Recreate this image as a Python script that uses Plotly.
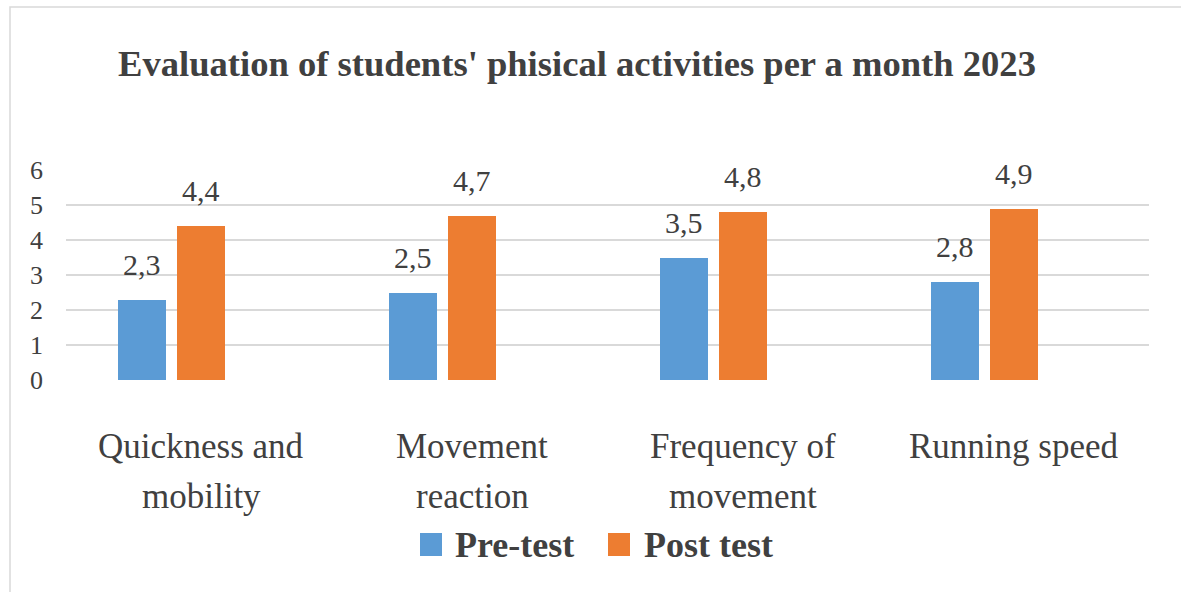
import plotly.graph_objects as go

# Chart data
categories = ["Quickness and<br>mobility", "Movement<br>reaction",
              "Frequency of<br>movement", "Running speed"]
pre_test = [2.3, 2.5, 3.5, 2.8]
post_test = [4.4, 4.7, 4.8, 4.9]
series_names = ["Pre-test", "Post test"]
y_ticks = [0, 1, 2, 3, 4, 5, 6]

BLUE = "#5B9BD5"
ORANGE = "#ED7D31"
TEXT = "#404040"
GRID = "#D9D9D9"
FONT = "Liberation Serif"

W, H = 1181, 592
M_L, M_R, M_T, M_B = 66, 32, 170, 212
PLOT_W = W - M_L - M_R
PLOT_H = H - M_T - M_B

# group layout: three slots per category, the third one left empty
BAR_W = 0.177
PRE_OFF = -0.218
POST_OFF = 0.0

idx = list(range(len(categories)))


def fmt(v):
    return f"{v:.1f}".replace(".", ",")


def px_x(p):
    return (p - M_L) / PLOT_W


def px_y(p):
    return (H - M_B - p) / PLOT_H


fig = go.Figure()
fig.add_trace(go.Bar(x=[i + PRE_OFF for i in idx], y=pre_test, width=BAR_W,
                     name=series_names[0], marker=dict(color=BLUE, line_width=0)))
fig.add_trace(go.Bar(x=[i + POST_OFF for i in idx], y=post_test, width=BAR_W,
                     name=series_names[1], marker=dict(color=ORANGE, line_width=0)))

annotations = []
for i in idx:
    for off, vals in ((PRE_OFF, pre_test), (POST_OFF, post_test)):
        annotations.append(dict(x=i + off, y=vals[i], xref="x", yref="y",
                                text=fmt(vals[i]), showarrow=False,
                                yanchor="bottom", yshift=17,
                                font=dict(family=FONT, size=30, color=TEXT)))

# category labels, one annotation per text line for wider line spacing
LINE_Y = [446, 496]
for i, cat in zip(idx, categories):
    for k, line in enumerate(cat.split("<br>")):
        annotations.append(dict(x=i, y=px_y(LINE_Y[k]), xref="x", yref="paper",
                                text=line, showarrow=False,
                                xanchor="center", yanchor="middle",
                                font=dict(family=FONT, size=35, color=TEXT)))

# legend drawn as swatches plus bold labels
shapes = [
    dict(type="rect", xref="paper", yref="paper",
         x0=px_x(10), x1=px_x(W + 10), y0=px_y(H + 10), y1=px_y(7),
         line=dict(color=GRID, width=1.5), fillcolor="rgba(0,0,0,0)", layer="below"),
]
legend_items = [(BLUE, 420, 453, series_names[0]), (ORANGE, 608, 642, series_names[1])]
for color, sx, tx, label in legend_items:
    shapes.append(dict(type="rect", xref="paper", yref="paper",
                       x0=px_x(sx), x1=px_x(sx + 22), y0=px_y(556), y1=px_y(533),
                       fillcolor=color, line_width=0))
    annotations.append(dict(x=px_x(tx), y=px_y(545), xref="paper", yref="paper",
                            text=f"<b>{label}</b>", showarrow=False,
                            xanchor="left", yanchor="middle",
                            font=dict(family=FONT, size=36, color=TEXT)))

fig.update_layout(
    width=W, height=H,
    margin=dict(l=M_L, r=M_R, t=M_T, b=M_B),
    paper_bgcolor="white", plot_bgcolor="white",
    showlegend=False,
    bargap=0,
    title=dict(text="<b>Evaluation of students' phisical activities per a month 2023</b>",
               x=577 / W, xref="container", xanchor="center",
               y=1 - 63 / H, yref="container", yanchor="middle",
               font=dict(family=FONT, size=36.6, color=TEXT)),
    xaxis=dict(range=[-0.5, len(categories) - 0.5], tickmode="array",
               tickvals=idx, showticklabels=False, showgrid=False, zeroline=False,
               showline=False, ticks=""),
    yaxis=dict(range=[0, 6], tickmode="array", tickvals=y_ticks,
               ticktext=[str(t) for t in y_ticks], showgrid=True,
               gridcolor=GRID, gridwidth=1.5, zeroline=False, showline=False,
               ticks="", ticklabelstandoff=22,
               tickfont=dict(family=FONT, size=26, color=TEXT)),
    shapes=shapes,
    annotations=annotations,
)

fig.write_html("out.html")
